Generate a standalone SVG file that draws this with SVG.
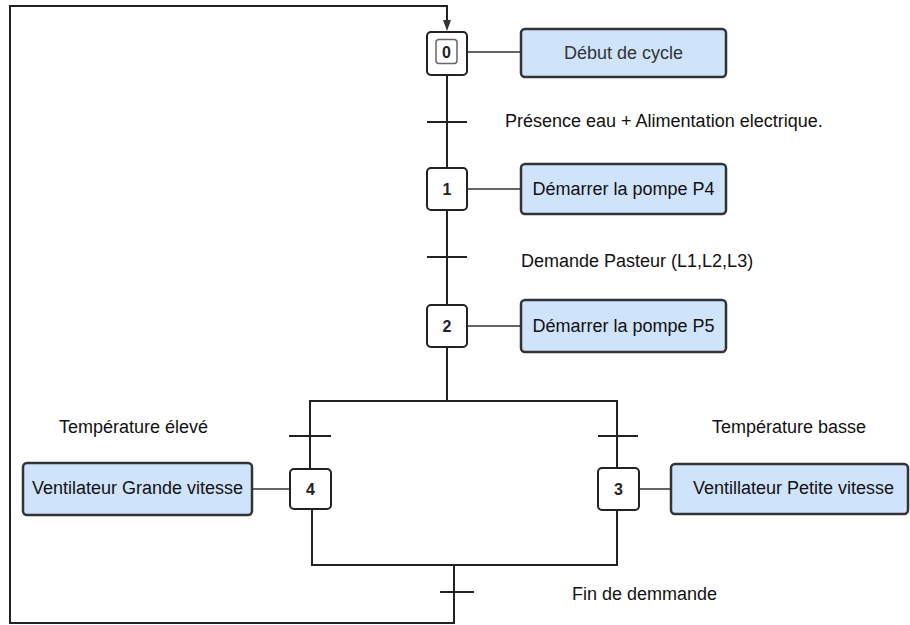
<svg xmlns="http://www.w3.org/2000/svg" width="910" height="625" viewBox="0 0 910 625">
<defs>
<style>
.step{fill:#fff;stroke:#222;stroke-width:2}
.act{fill:#cfe3fb;stroke:#333;stroke-width:2.5}
.ln{fill:none;stroke:#222;stroke-width:2}
.lk{fill:none;stroke:#333;stroke-width:1.5}
.num{font-family:"Liberation Sans",Arial,sans-serif;font-size:16px;font-weight:bold;fill:#222;text-anchor:middle}
.t{font-family:"Liberation Sans",Arial,sans-serif;font-size:18px;fill:#111}
.tc{font-family:"Liberation Sans",Arial,sans-serif;font-size:18px;fill:#111;text-anchor:middle}
</style>
</defs>
<rect width="910" height="625" fill="#fff"/>
<g id="connectors">
<path class="ln" d="M447,76 V168 M447,210 V305 M447,347 V401 M309,401 H618 M310,401 V469 M617,401 V468 M312,509 V565 H617 V510 M454,565 V623 H10 V6 H447 V20"/>
<path d="M443,20 L451,20 L447,31 Z" fill="#333"/>
<path class="ln" d="M427,122 H467 M427,257 H467 M289,436 H331 M598,436 H638 M440,592 H474"/>
<path class="lk" d="M467,52 H521 M467,189 H521 M467,326 H521 M252,489 H289 M639,489 H671"/>
</g>
<g id="step0">
<rect class="step" x="427" y="32" width="40" height="43" rx="4"/>
<rect x="436" y="39.5" width="21" height="24" rx="3" fill="#fff" stroke="#666" stroke-width="1.5"/>
<text class="num" x="446.5" y="57.5">0</text>
</g>
<g id="action0">
<rect class="act" x="521" y="29" width="205" height="48" rx="4"/>
<text class="tc" x="623.5" y="59" style="fill:#333">Début de cycle</text>
</g>
<g id="step1">
<rect class="step" x="427" y="168" width="40" height="42" rx="4"/>
<text class="num" x="447" y="195">1</text>
</g>
<g id="action1">
<rect class="act" x="521" y="164" width="205" height="50" rx="4"/>
<text class="tc" x="623.5" y="195">Démarrer la pompe P4</text>
</g>
<g id="step2">
<rect class="step" x="427" y="305" width="40" height="42" rx="4"/>
<text class="num" x="447" y="332">2</text>
</g>
<g id="action2">
<rect class="act" x="521" y="300" width="205" height="52" rx="4"/>
<text class="tc" x="623.5" y="332">Démarrer la pompe P5</text>
</g>
<g id="step4">
<rect class="step" x="290" y="469" width="41" height="40" rx="4"/>
<text class="num" x="310.5" y="495">4</text>
</g>
<g id="action4">
<rect class="act" x="23" y="463" width="229" height="52" rx="4"/>
<text class="tc" x="137.5" y="494">Ventilateur Grande vitesse</text>
</g>
<g id="step3">
<rect class="step" x="598" y="468" width="41" height="42" rx="4"/>
<text class="num" x="618.5" y="495">3</text>
</g>
<g id="action3">
<rect class="act" x="671" y="464" width="237" height="50" rx="4"/>
<text class="tc" x="793.5" y="494">Ventillateur Petite vitesse</text>
</g>
<g id="labels">
<text class="t" x="505" y="126.5">Présence eau + Alimentation electrique.</text>
<text class="t" x="521" y="267">Demande Pasteur (L1,L2,L3)</text>
<text class="t" x="59" y="433">Température élevé</text>
<text class="t" x="712" y="433">Température basse</text>
<text class="t" x="572" y="600">Fin de demmande</text>
</g>
</svg>
